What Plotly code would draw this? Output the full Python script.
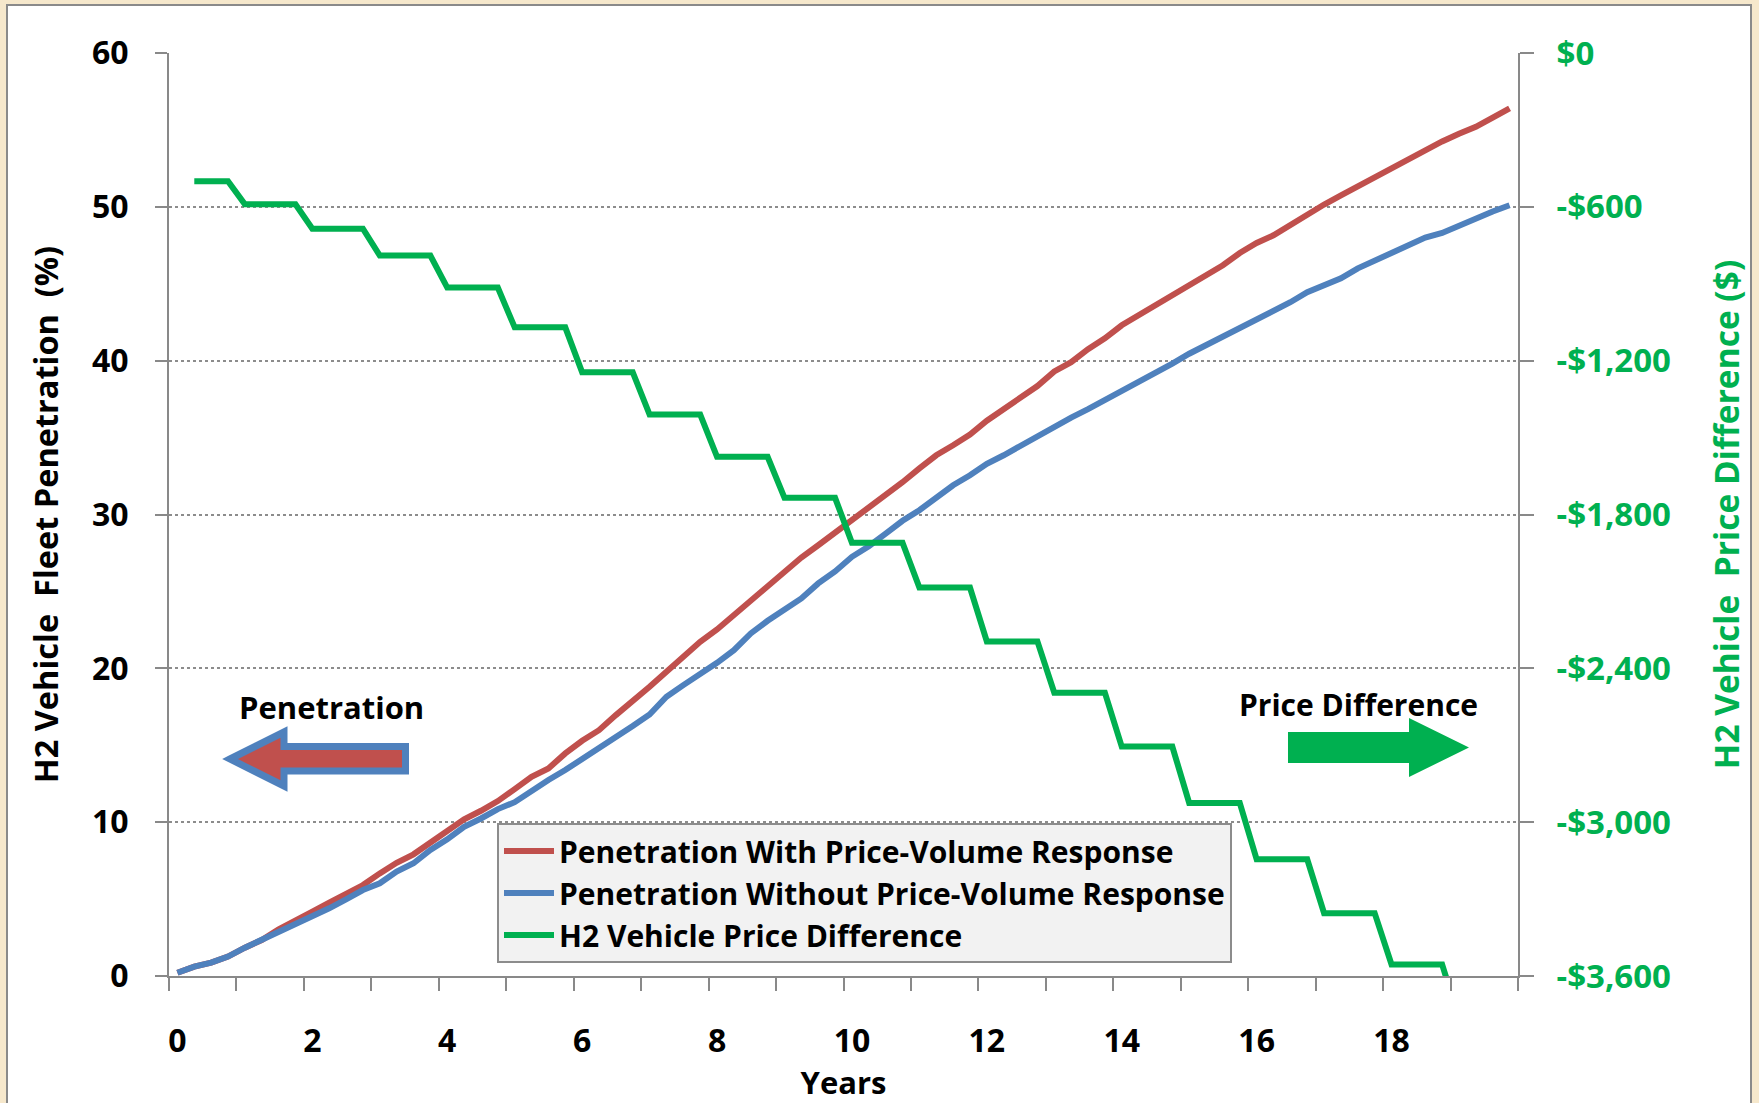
import plotly.graph_objects as go

# Quarterly time steps over 20 years (80 points)
quarter_index = list(range(80))
years = [q / 4 for q in quarter_index]

# Fleet penetration (%) with price-volume response
pen_with_response = [
    0.21, 0.61, 0.87, 1.26, 1.84, 2.34, 3.03, 3.57,
    4.18, 4.77, 5.31, 5.91, 6.67, 7.36, 7.91, 8.66,
    9.44, 10.18, 10.74, 11.37, 12.15, 12.95, 13.49, 14.47,
    15.29, 15.98, 16.96, 17.82, 18.80, 19.77, 20.75, 21.72,
    22.53, 23.46, 24.43, 25.34, 26.17, 27.20, 28.00, 28.80,
    29.60, 30.50, 31.30, 32.10, 33.00, 33.85, 34.50, 35.20,
    36.10, 36.85, 37.55, 38.35, 39.30, 39.90, 40.75, 41.45,
    42.30, 42.95, 43.60, 44.36, 45.00, 45.60, 46.20, 47.00,
    47.65, 48.15, 48.85, 49.50, 50.15, 50.75, 51.35, 51.95,
    52.45, 53.10, 53.75, 54.25, 54.75, 55.20, 55.80, 56.40,
]

# Fleet penetration (%) without price-volume response
pen_without_response = [
    0.21, 0.61, 0.87, 1.26, 1.84, 2.34, 2.88, 3.42,
    3.92, 4.40, 4.98, 5.59, 6.03, 6.79, 7.33, 8.19,
    8.88, 9.70, 10.24, 10.85, 11.30, 12.07, 12.74, 13.39,
    14.08, 14.80, 15.51, 16.25, 17.00, 18.15, 18.91, 19.62,
    20.36, 21.18, 22.27, 23.09, 23.78, 24.54, 25.52, 26.30,
    27.25, 27.94, 28.76, 29.59, 30.28, 31.14, 31.90, 32.55,
    33.30, 33.85, 34.46, 35.15, 35.69, 36.30, 36.85, 37.43,
    38.08, 38.62, 39.27, 39.81, 40.45, 41.00, 41.50, 42.10,
    42.60, 43.20, 43.80, 44.45, 44.90, 45.35, 46.00, 46.50,
    46.90, 47.40, 48.00, 48.30, 48.80, 49.25, 49.70, 50.10,
]

# H2 vehicle price difference ($), stepping down once per year
price_difference = [
    None, -500, -500, -500, -590, -590, -590, -590,
    -685, -685, -685, -685, -790, -790, -790, -790,
    -915, -915, -915, -915, -1070, -1070, -1070, -1070,
    -1245, -1245, -1245, -1245, -1410, -1410, -1410, -1410,
    -1575, -1575, -1575, -1575, -1735, -1735, -1735, -1735,
    -1910, -1910, -1910, -1910, -2085, -2085, -2085, -2085,
    -2295, -2295, -2295, -2295, -2495, -2495, -2495, -2495,
    -2705, -2705, -2705, -2705, -2925, -2925, -2925, -2925,
    -3145, -3145, -3145, -3145, -3355, -3355, -3355, -3355,
    -3555, -3555, -3555, -3555, -3765, -3765, -3765, -3765,
]

x_tick_values = [0, 2, 4, 6, 8, 10, 12, 14, 16, 18]
x_tick_labels = [str(v) for v in x_tick_values]
left_tick_values = [0, 10, 20, 30, 40, 50, 60]
right_tick_values = [0, -600, -1200, -1800, -2400, -3000, -3600]
right_tick_labels = ["$0" if v == 0 else f"-${abs(v):,}" for v in right_tick_values]

RED = "#c0504d"
BLUE = "#4f81bd"
GREEN = "#00b050"
AXIS_GREY = "#898989"
FONT = "'Open Sans', Lato, sans-serif"

W, H = 1759, 1103
PL, PR, PT, PB = 169, 1518, 53, 976


def px(x):
    return (x - PL) / (PR - PL)


def py(y):
    return (PB - y) / (PB - PT)


def path(points):
    return "M " + " L ".join(f"{px(a):.5f},{py(b):.5f}" for a, b in points) + " Z"


def bold(size, color="black"):
    return dict(family=FONT, size=size, color=color, weight="bold")


fig = go.Figure()

fig.add_trace(go.Scatter(
    x=years, y=pen_with_response, mode="lines",
    name="Penetration With Price-Volume Response",
    line=dict(color=RED, width=6),
))
fig.add_trace(go.Scatter(
    x=years, y=pen_without_response, mode="lines",
    name="Penetration Without Price-Volume Response",
    line=dict(color=BLUE, width=6),
))
fig.add_trace(go.Scatter(
    x=years, y=price_difference, mode="lines", yaxis="y2",
    name="H2 Vehicle Price Difference",
    line=dict(color=GREEN, width=6),
))

fig.update_layout(
    width=W, height=H,
    margin=dict(l=PL, r=W - PR, t=PT, b=H - PB, pad=0),
    paper_bgcolor="#f6e8cc",
    plot_bgcolor="rgba(0,0,0,0)",
    font=dict(family=FONT, color="black"),
    showlegend=True,
    legend=dict(
        x=px(497), y=py(823), xanchor="left", yanchor="top",
        bgcolor="#f2f2f2", bordercolor="#8c8c8c", borderwidth=2,
        font=bold(30),
        itemwidth=50,
    ),
    xaxis=dict(
        range=[-0.125, 19.875],
        tickmode="array", tickvals=x_tick_values, ticktext=x_tick_labels,
        ticks="", tickfont=bold(32), ticklabelstandoff=36,
        minor=dict(tickmode="array",
                   tickvals=[k - 0.125 for k in range(21)],
                   ticks="outside", ticklen=13, tickwidth=2,
                   tickcolor=AXIS_GREY, showgrid=False),
        showline=True, linecolor=AXIS_GREY, linewidth=2,
        showgrid=False, zeroline=False,
        title=dict(text="Years", font=bold(31), standoff=2),
    ),
    yaxis=dict(
        range=[0, 60], tickmode="array", tickvals=left_tick_values,
        ticks="outside", ticklen=12, tickwidth=2, tickcolor=AXIS_GREY,
        tickfont=bold(32), ticklabelstandoff=20,
        showline=True, linecolor=AXIS_GREY, linewidth=2,
        showgrid=True, gridcolor="#8c8c8c", gridwidth=1.5, griddash="dot",
        zeroline=False,
        title=dict(text="H2 Vehicle  Fleet Penetration  (%)",
                   font=bold(32.5), standoff=24),
    ),
    yaxis2=dict(
        overlaying="y", side="right", anchor="x",
        range=[-3600, 0], tickmode="array", tickvals=right_tick_values,
        ticktext=right_tick_labels,
        ticks="outside", ticklen=14, tickwidth=2, tickcolor=AXIS_GREY,
        tickfont=bold(33, GREEN), ticklabelstandoff=16,
        showline=True, linecolor=AXIS_GREY, linewidth=2,
        showgrid=False, zeroline=False,
        title=dict(text="H2 Vehicle  Price Difference ($)",
                   font=bold(33.5, GREEN), standoff=46),
    ),
)

shapes = [
    # white chart frame
    dict(type="rect", xref="paper", yref="paper", layer="below",
         x0=px(7), x1=px(1751), y0=py(1115), y1=py(5),
         fillcolor="white", line=dict(color="#8a8a8a", width=2)),
    # left-pointing penetration arrow
    dict(type="path", xref="paper", yref="paper",
         path=path([(230, 759), (284, 732), (284, 746.5), (405.5, 746.5),
                    (405.5, 771), (284, 771), (284, 786)]),
         fillcolor=RED, line=dict(color=BLUE, width=7)),
    # right-pointing price difference arrow
    dict(type="path", xref="paper", yref="paper",
         path=path([(1288, 732), (1409, 732), (1409, 718), (1469, 747.5),
                    (1409, 777), (1409, 763), (1288, 763)]),
         fillcolor=GREEN, line=dict(width=0)),
]
fig.update_layout(shapes=shapes)

fig.add_annotation(x=px(331), y=py(707), xref="paper", yref="paper",
                   xanchor="center", yanchor="middle",
                   text="Penetration", showarrow=False, font=bold(31))
fig.add_annotation(x=px(1358), y=py(704), xref="paper", yref="paper",
                   xanchor="center", yanchor="middle",
                   text="Price Difference", showarrow=False, font=bold(30))

fig.write_html("out.html")
